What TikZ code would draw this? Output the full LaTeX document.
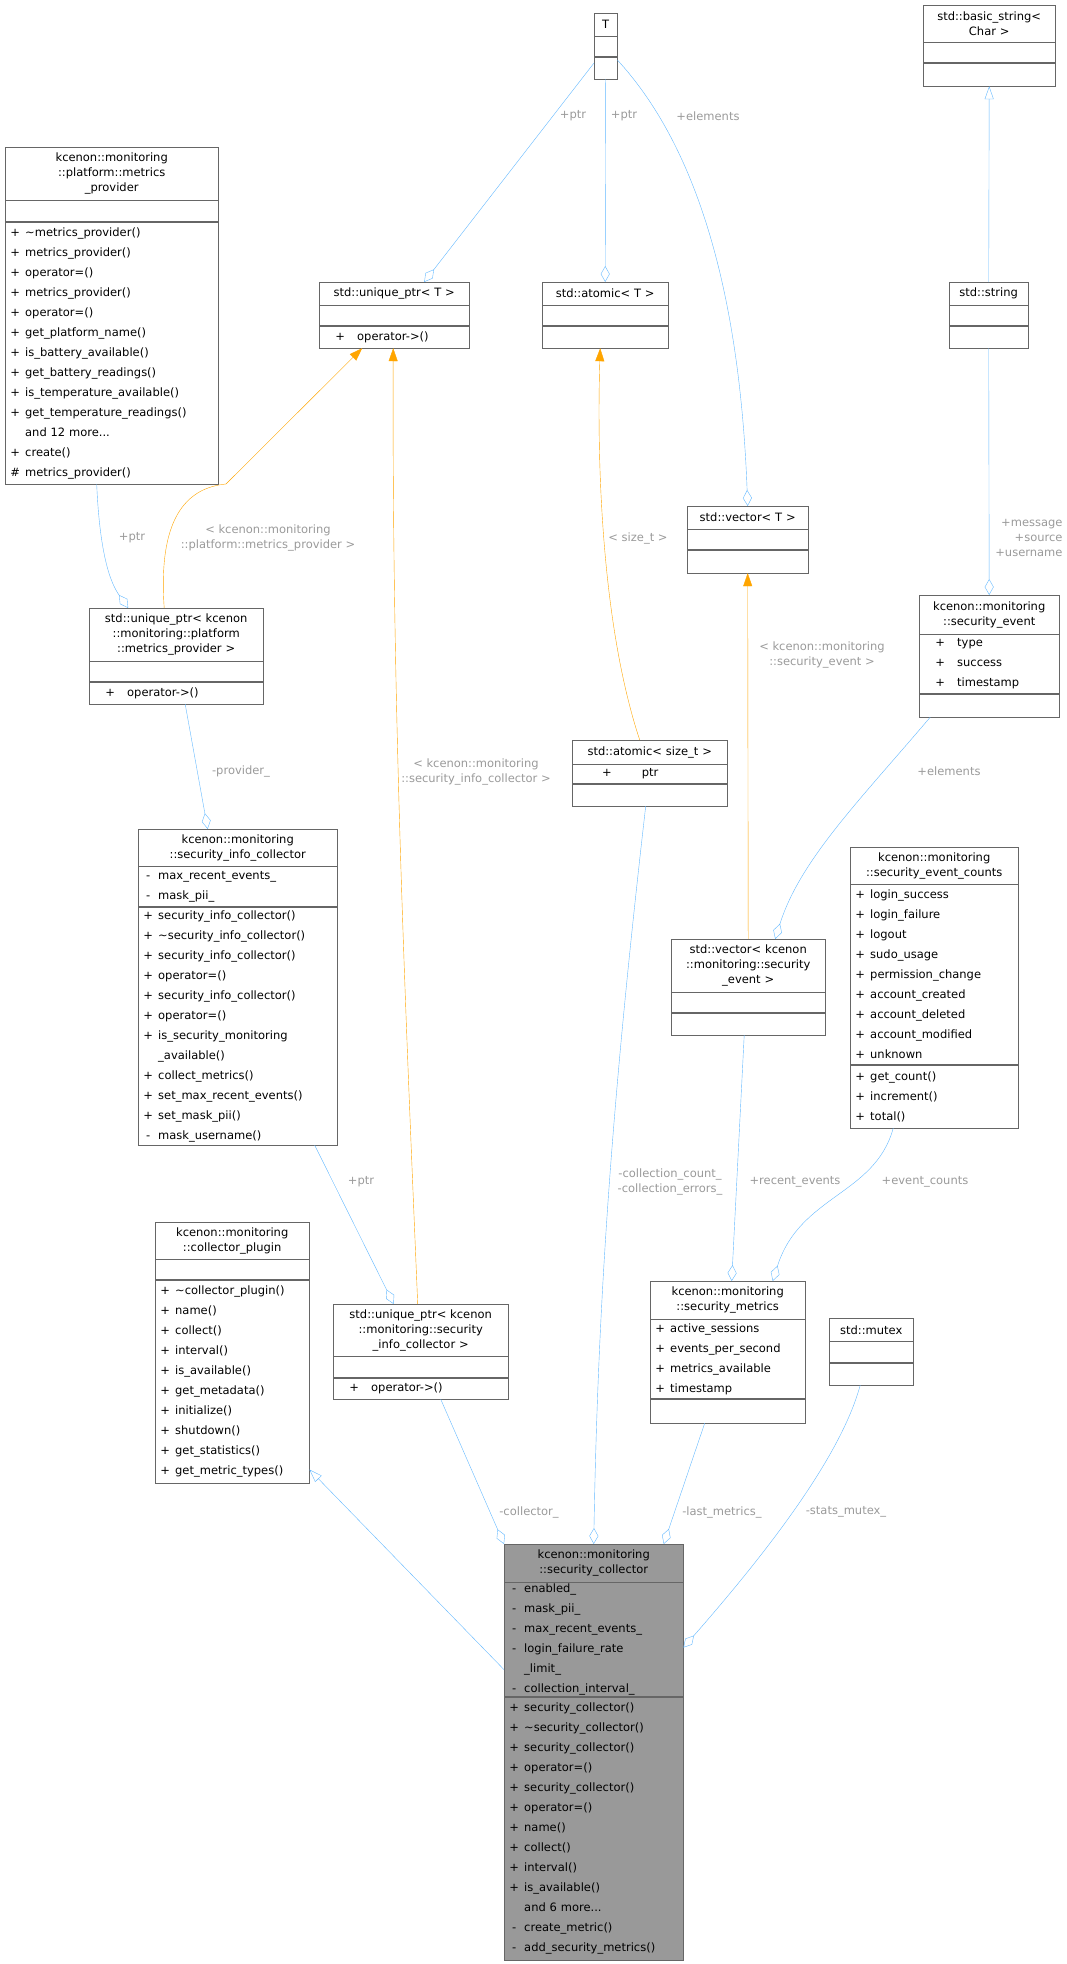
\documentclass[tikz,border=0pt]{standalone}
\usepackage{fontspec}
\setmainfont{DejaVu Sans}
\usetikzlibrary{arrows.meta}

\definecolor{edgeblue}{HTML}{63B8FF}
\definecolor{edgeorange}{HTML}{FFA500}
\definecolor{lblgray}{HTML}{9A9A9A}
\definecolor{boxgray}{HTML}{666666}
\definecolor{fillgray}{HTML}{999999}

\newcommand{\mb}[2]{\hspace*{3pt}\makebox[14pt][c]{#1}\hspace{3pt}#2}
\newcommand{\mw}[2]{\hspace*{14pt}\makebox[14pt][c]{#1}\hspace{10pt}#2}

\begin{document}
\begin{tikzpicture}[x=1pt,y=-1pt,
                head/.style 2 args={draw=boxgray,fill=white,anchor=north west,inner sep=0pt,
                  minimum width=#1,text width=#1,minimum height=#2,align=center,
                  font=\fontsize{11.5}{15}\selectfont},
                part/.style 2 args={draw=boxgray,fill=white,anchor=north west,inner sep=0pt,
                  minimum width=#1,text width=#1,minimum height=#2,align=left,
                  font=\fontsize{11.5}{20}\selectfont},
                agg/.style={draw=edgeblue,-{Diamond[open,length=16pt,width=9pt]}},
                inh/.style={draw=edgeblue,-{Triangle[open,length=13pt,width=9pt]}},
                tmpl/.style={draw=edgeorange,-{Triangle[length=13pt,width=9pt]}},
                lbl/.style={text=lblgray,font=\fontsize{11.5}{15}\selectfont,align=center}]
	\useasboundingbox (0,0) rectangle (1067,1964);

	% template parameters and std classes
	\node[head={23}{23}] (T) at (594,13) {T};
	\node[part={23}{20}] (T-a) at (T.south west) {};
	\node[part={23}{22}] (T-m) at (T-a.south west) {};

	\node[head={132}{37}] (bs) at (923,5) {std::basic\_string<\\Char >};
	\node[part={132}{20}] (bs-a) at (bs.south west) {};
	\node[part={132}{23}] (bs-m) at (bs-a.south west) {};

	\node[head={213}{53}] (mp) at (5,147) {kcenon::monitoring\\::platform::metrics\\\_provider};
	\node[part={213}{21}] (mp-a) at (mp.south west) {};
	\node[part={213}{262}] (mp-m) at (mp-a.south west) {\mb{+}{\textasciitilde metrics\_provider()}\\\mb{+}{metrics\_provider()}\\
		\mb{+}{operator=()}\\\mb{+}{metrics\_provider()}\\\mb{+}{operator=()}\\\mb{+}{get\_platform\_name()}\\
		\mb{+}{is\_battery\_available()}\\\mb{+}{get\_battery\_readings()}\\\mb{+}{is\_temperature\_available()}\\
		\mb{+}{get\_temperature\_readings()}\\\mb{}{and 12 more...}\\\mb{+}{create()}\\\mb{\#}{metrics\_provider()}};

	\node[head={150}{23}] (uT) at (319,282) {std::unique\_ptr< T >};
	\node[part={150}{20}] (uT-a) at (uT.south west) {};
	\node[part={150}{22}] (uT-m) at (uT-a.south west) {\mw{+}{operator->()}};

	\node[head={126}{23}] (aT) at (542,282) {std::atomic< T >};
	\node[part={126}{20}] (aT-a) at (aT.south west) {};
	\node[part={126}{22}] (aT-m) at (aT-a.south west) {};

	\node[head={79}{23}] (str) at (949,282) {std::string};
	\node[part={79}{20}] (str-a) at (str.south west) {};
	\node[part={79}{22}] (str-m) at (str-a.south west) {};

	\node[head={121}{23}] (vT) at (687,506) {std::vector< T >};
	\node[part={121}{20}] (vT-a) at (vT.south west) {};
	\node[part={121}{23}] (vT-m) at (vT-a.south west) {};

	\node[head={140}{39}] (se) at (919,595) {kcenon::monitoring\\::security\_event};
	\node[part={140}{59}] (se-a) at (se.south west) {\mw{+}{type}\\\mw{+}{success}\\\mw{+}{timestamp}};
	\node[part={140}{23}] (se-m) at (se-a.south west) {};

	\node[head={174}{53}] (ump) at (89,608) {std::unique\_ptr< kcenon\\::monitoring::platform\\::metrics\_provider >};
	\node[part={174}{20}] (ump-a) at (ump.south west) {};
	\node[part={174}{22}] (ump-m) at (ump-a.south west) {\mw{+}{operator->()}};

	\node[head={155}{24}] (as) at (572,740) {std::atomic< size\_t >};
	\node[part={155}{19}] (as-a) at (as.south west) {\hspace*{30pt}+\hspace{30pt}ptr};
	\node[part={155}{22}] (as-m) at (as-a.south west) {};

	\node[head={199}{37}] (sic) at (138,829) {kcenon::monitoring\\::security\_info\_collector};
	\node[part={199}{40}] (sic-a) at (sic.south west) {\mb{-}{max\_recent\_events\_}\\\mb{-}{mask\_pii\_}};
	\node[part={199}{238}] (sic-m) at (sic-a.south west) {\mb{+}{security\_info\_collector()}\\\mb{+}{\textasciitilde security\_info\_collector()}\\
		\mb{+}{security\_info\_collector()}\\\mb{+}{operator=()}\\\mb{+}{security\_info\_collector()}\\\mb{+}{operator=()}\\
		\mb{+}{is\_security\_monitoring}\\\mb{}{\_available()}\\\mb{+}{collect\_metrics()}\\\mb{+}{set\_max\_recent\_events()}\\
		\mb{+}{set\_mask\_pii()}\\\mb{-}{mask\_username()}};

	\node[head={168}{37}] (ec) at (850,847) {kcenon::monitoring\\::security\_event\_counts};
	\node[part={168}{180}] (ec-a) at (ec.south west) {\mb{+}{login\_success}\\\mb{+}{login\_failure}\\\mb{+}{logout}\\
		\mb{+}{sudo\_usage}\\\mb{+}{permission\_change}\\\mb{+}{account\_created}\\\mb{+}{account\_deleted}\\
		\mb{+}{account\_modified}\\\mb{+}{unknown}};
	\node[part={168}{63}] (ec-m) at (ec-a.south west) {\mb{+}{get\_count()}\\\mb{+}{increment()}\\\mb{+}{total()}};

	\node[head={154}{53}] (vse) at (671,939) {std::vector< kcenon\\::monitoring::security\\\_event >};
	\node[part={154}{20}] (vse-a) at (vse.south west) {};
	\node[part={154}{22}] (vse-m) at (vse-a.south west) {};

	\node[head={154}{37}] (cp) at (155,1222) {kcenon::monitoring\\::collector\_plugin};
	\node[part={154}{20}] (cp-a) at (cp.south west) {};
	\node[part={154}{203}] (cp-m) at (cp-a.south west) {\mb{+}{\textasciitilde collector\_plugin()}\\\mb{+}{name()}\\\mb{+}{collect()}\\
		\mb{+}{interval()}\\\mb{+}{is\_available()}\\\mb{+}{get\_metadata()}\\\mb{+}{initialize()}\\\mb{+}{shutdown()}\\
		\mb{+}{get\_statistics()}\\\mb{+}{get\_metric\_types()}};

	\node[head={175}{52}] (usic) at (333,1304) {std::unique\_ptr< kcenon\\::monitoring::security\\\_info\_collector >};
	\node[part={175}{21}] (usic-a) at (usic.south west) {};
	\node[part={175}{21}] (usic-m) at (usic-a.south west) {\mw{+}{operator->()}};

	\node[head={155}{38}] (sm) at (650,1281) {kcenon::monitoring\\::security\_metrics};
	\node[part={155}{79}] (sm-a) at (sm.south west) {\mb{+}{active\_sessions}\\\mb{+}{events\_per\_second}\\
		\mb{+}{metrics\_available}\\\mb{+}{timestamp}};
	\node[part={155}{24}] (sm-m) at (sm-a.south west) {};

	\node[head={84}{23}] (mx) at (829,1318) {std::mutex};
	\node[part={84}{21}] (mx-a) at (mx.south west) {};
	\node[part={84}{22}] (mx-m) at (mx-a.south west) {};

	% the documented class
	\node[head={179}{38},fill=fillgray] (sc) at (504,1544) {kcenon::monitoring\\::security\_collector};
	\node[part={179}{114},fill=fillgray] (sc-a) at (sc.south west) {\mb{-}{enabled\_}\\\mb{-}{mask\_pii\_}\\
		\mb{-}{max\_recent\_events\_}\\\mb{-}{login\_failure\_rate}\\\mb{}{\_limit\_}\\\mb{-}{collection\_interval\_}};
	\node[part={179}{263},fill=fillgray] (sc-m) at (sc-a.south west) {\mb{+}{security\_collector()}\\
		\mb{+}{\textasciitilde security\_collector()}\\\mb{+}{security\_collector()}\\\mb{+}{operator=()}\\
		\mb{+}{security\_collector()}\\\mb{+}{operator=()}\\\mb{+}{name()}\\\mb{+}{collect()}\\\mb{+}{interval()}\\
		\mb{+}{is\_available()}\\\mb{}{and 6 more...}\\\mb{-}{create\_metric()}\\\mb{-}{add\_security\_metrics()}};

	% connectors
	\draw[agg] ([yshift=5pt]T-m.west) -- ([xshift=30pt]uT.north);
	\draw[agg] (T-m.south) -- (aT.north);
	\draw[agg] ([yshift=8pt]T-m.east) .. controls (700,150) and (740,300) .. (vT.north);
	\draw[inh] (str.north) -- (bs-m.south);
	\draw[agg] (str-m.south) -- (se.north);
	\draw[agg] ([xshift=-15pt]mp-m.south) .. controls (100,560) and (112,585) .. ([xshift=-48pt]ump.north);
	\draw[tmpl] ([xshift=-12pt]ump.north) .. controls (158,520) and (185,488) .. (226,484) -- ([xshift=-32pt]uT-m.south);
	\draw[tmpl] ([xshift=-3pt]usic.north) .. controls (405,1000) and (392,700) .. ([xshift=-1pt]uT-m.south);
	\draw[tmpl] ([xshift=-10pt]as.north) .. controls (600,620) and (597,450) .. ([xshift=-5pt]aT-m.south);
	\draw[tmpl] (vse.north) -- (vT-m.south);
	\draw[agg] ([xshift=-59pt]se-m.south) .. controls (860,800) and (800,860) .. ([xshift=27pt]vse.north);
	\draw[agg] ([xshift=9pt]ump-m.south) -- ([xshift=-30pt]sic.north);
	\draw[agg] ([xshift=77pt]sic-m.south) -- ([xshift=-27pt]usic.north);
	\draw[agg] ([xshift=-4pt]vse-m.south) -- ([xshift=4pt]sm.north);
	\draw[agg] ([xshift=-41pt]ec-m.south) .. controls (875,1195) and (800,1195) .. ([xshift=45pt]sm.north);
	\draw[agg] ([xshift=-4pt]as-m.south) .. controls (612,1100) and (598,1300) .. (sc.north);
	\draw[agg] ([xshift=20pt]usic-m.south) -- (sc.north west);
	\draw[agg] ([xshift=-23pt]sm-m.south) -- ([xshift=70pt]sc.north);
	\draw[agg] ([xshift=-11pt]mx-m.south) .. controls (840,1460) and (760,1560) .. ([yshift=-8pt]sc-a.east);
	\draw[inh] ([yshift=-30pt]sc-a.west) -- ([yshift=-88pt]cp-m.east);

	% connector labels
	\node[lbl] (l-ptr1) at (573,116) {+ptr};
	\node[lbl] (l-ptr2) at (624,116) {+ptr};
	\node[lbl] (l-elem1) at (708,116) {+elements};
	\node[lbl,anchor=east,align=right] (l-msg) at (1066,538) {+message\\+source\\+username};
	\node[lbl] (l-ptr3) at (132,538) {+ptr};
	\node[lbl] (l-tmp1) at (268,538) {< kcenon::monitoring\\::platform::metrics\_provider >};
	\node[lbl] (l-size) at (638,538) {< size\_t >};
	\node[lbl] (l-tmp2) at (822,655) {< kcenon::monitoring\\::security\_event >};
	\node[lbl] (l-prov) at (241,771) {-provider\_};
	\node[lbl] (l-tmp3) at (476,772) {< kcenon::monitoring\\::security\_info\_collector >};
	\node[lbl] (l-elem2) at (949,771) {+elements};
	\node[lbl] (l-ptr4) at (361,1182) {+ptr};
	\node[lbl] (l-coll) at (670,1182) {-collection\_count\_\\-collection\_errors\_};
	\node[lbl] (l-rec) at (795,1182) {+recent\_events};
	\node[lbl] (l-cnt) at (925,1182) {+event\_counts};
	\node[lbl] (l-col) at (529,1512) {-collector\_};
	\node[lbl] (l-last) at (722,1512) {-last\_metrics\_};
	\node[lbl] (l-mtx) at (846,1512) {-stats\_mutex\_};

\end{tikzpicture}
\end{document}
